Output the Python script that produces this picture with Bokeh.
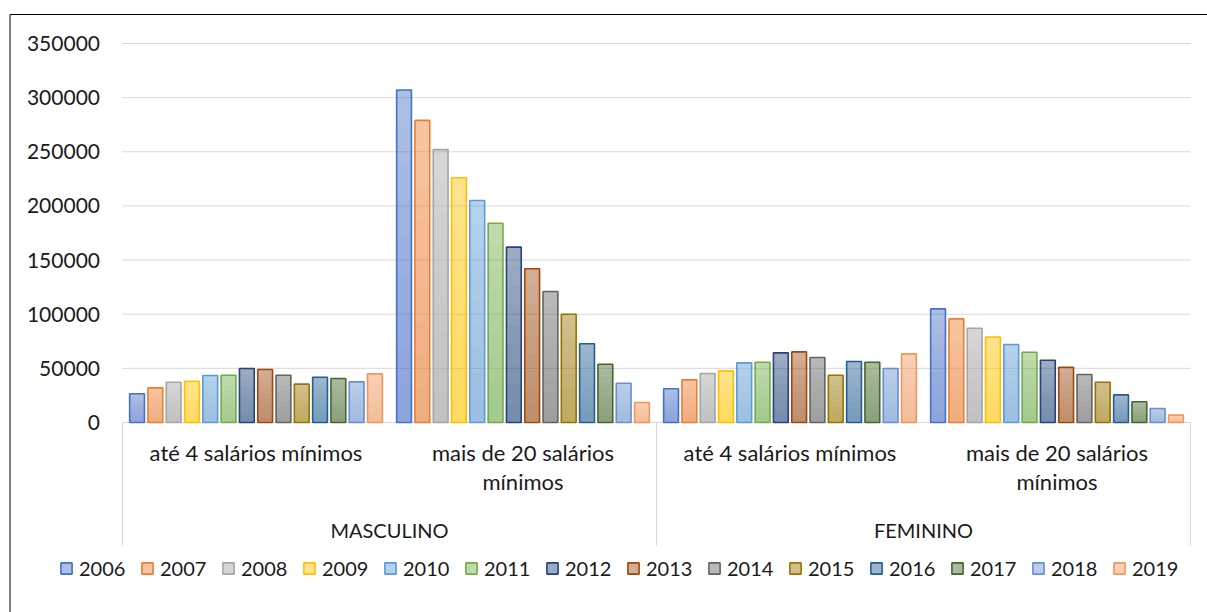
from bokeh.plotting import figure
from bokeh.models import Range1d, Legend, LegendItem
from bokeh.core.properties import value
from bokeh.embed import file_html
from bokeh.resources import INLINE

# ---- data -------------------------------------------------------------
years = [2006, 2007, 2008, 2009, 2010, 2011, 2012,
         2013, 2014, 2015, 2016, 2017, 2018, 2019]
sexos = ["MASCULINO", "FEMININO"]
faixas = ["até 4 salários mínimos", "mais de 20 salários\nmínimos"]

masculino_ate4 = [26500, 32000, 37200, 38100, 43400, 43700, 49800,
                  48900, 43700, 35400, 41800, 40600, 37500, 44900]
masculino_mais20 = [307000, 279000, 252000, 226000, 205000, 184000, 162000,
                    142000, 121000, 100000, 72700, 53800, 36300, 18500]
feminino_ate4 = [31100, 39400, 45200, 47700, 55100, 55700, 64300,
                 65200, 60000, 43700, 56300, 55700, 49800, 63400]
feminino_mais20 = [104900, 95700, 87100, 78800, 72000, 64900, 57500,
                   51000, 44300, 37200, 25500, 19100, 12900, 6800]

y_ticks = [0, 50000, 100000, 150000, 200000, 250000, 300000, 350000]
y_tick_labels = [str(t) for t in y_ticks]

# one column per (sexo, faixa) in drawing order
groups = [masculino_ate4, masculino_mais20, feminino_ate4, feminino_mais20]

# ---- styling ------------------------------------------------------------
series_colors = ["#4472C4", "#ED7D31", "#A5A5A5", "#FFC000", "#5B9BD5",
                 "#70AD47", "#264478", "#9E480E", "#636363", "#997300",
                 "#255E91", "#43682B", "#698ED0", "#F1975A"]
FONT = "Lato"
TEXT_COLOR = "#1a1a1a"
GRID_COLOR = "#D9D9D9"

W, H = 1207, 612
PX_GROUP = 267.0             # pixels per category on the x scale
X0_PX, Y0_PX = 122.0, 422.0  # pixel of x = 0 and y = 0
PX_PER_UNIT = 379.0 / 350000


def x_at(px):
    return (px - X0_PX) / PX_GROUP


def y_at(py):
    return (Y0_PX - py) / PX_PER_UNIT


# the plot frame spans the whole canvas; axes are drawn as glyphs on it
p = figure(width=W, height=H, title=None, toolbar_location=None,
           output_backend="svg", x_axis_location=None, y_axis_location=None,
           x_range=Range1d(x_at(0), x_at(W)),
           y_range=Range1d(y_at(H), y_at(0)),
           min_border=0)
p.outline_line_color = None
p.background_fill_color = "white"
p.border_fill_color = "white"
p.grid.visible = False

n_groups = len(groups)

# chart-area frame: top and left edges (the others run past the canvas)
p.segment(x0=[x_at(9.5), x_at(9.5)], y0=[y_at(14), y_at(14)],
          x1=[x_at(W + 5), x_at(9.5)], y1=[y_at(14), y_at(H + 5)],
          line_color="black", line_width=1)

# value axis: gridlines and tick labels
p.segment(x0=[0] * len(y_ticks), y0=y_ticks, x1=[n_groups] * len(y_ticks),
          y1=y_ticks, line_color=GRID_COLOR, line_width=1)
p.text(x=[x_at(99.5)] * len(y_ticks), y=y_ticks, text=y_tick_labels,
       text_align="right", text_baseline="middle",
       text_font=value(FONT), text_font_size="21px", text_color=TEXT_COLOR)

# ---- bars -------------------------------------------------------------
n = len(years)
slot = 18.3 / PX_GROUP
bar_w = 14.8 / PX_GROUP
N_SHADE = 8

legend_items = []
for j, (yr, col) in enumerate(zip(years, series_colors)):
    xs = [g + 0.5 + (j - (n - 1) / 2) * slot for g in range(n_groups)]
    vals = [grp[j] for grp in groups]
    base = p.vbar(x=xs, top=vals, bottom=0, width=bar_w,
                  fill_color=col, fill_alpha=0.45, line_color=None)
    # vertical shading: lighter at the top, denser towards the base
    for k in range(1, N_SHADE + 1):
        frac = 1 - k / (N_SHADE + 1)
        p.vbar(x=xs, top=[v * frac for v in vals], bottom=0, width=bar_w,
               fill_color=col, fill_alpha=0.04, line_color=None)
    edge = p.vbar(x=xs, top=vals, bottom=0, width=bar_w,
                  fill_color=None, line_color=col, line_width=1.6)
    legend_items.append(LegendItem(label=str(yr), renderers=[base, edge]))

# ---- category axis (two levels) ---------------------------------------
sep_x = [0, 2, 4]
p.segment(x0=sep_x, y0=[0] * 3, x1=sep_x, y1=[y_at(545)] * 3,
          line_color=GRID_COLOR, line_width=1)

inner_x = [g + 0.5 for g in range(n_groups)]
inner_text = [faixas[g % 2] for g in range(n_groups)]
p.text(x=inner_x, y=[y_at(438)] * n_groups, text=inner_text,
       text_align="center", text_baseline="top", text_line_height=1.1,
       text_font=value(FONT), text_font_size="22px", text_color=TEXT_COLOR)

outer_x = [1, 3]
p.text(x=outer_x, y=[y_at(529)] * 2, text=sexos,
       text_align="center", text_baseline="middle",
       text_font=value(FONT), text_font_size="20px", text_color=TEXT_COLOR)

# ---- legend -----------------------------------------------------------
legend = Legend(items=legend_items, orientation="horizontal",
                location=(59, 32),
                glyph_width=14, glyph_height=14, label_standoff=6,
                label_width=47, spacing=14, padding=0, margin=0,
                border_line_color=None, background_fill_alpha=0,
                label_text_font=FONT, label_text_font_size="20px",
                label_text_color=TEXT_COLOR)
p.add_layout(legend)

open("out.html", "w").write(file_html(p, INLINE))
